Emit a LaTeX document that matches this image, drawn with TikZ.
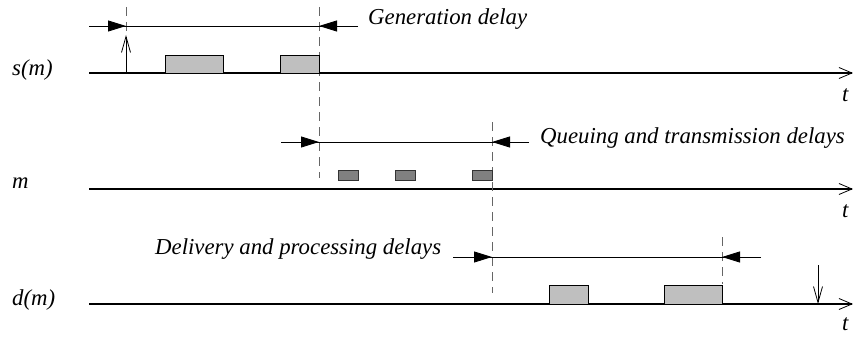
\documentclass[tikz,border=0pt]{standalone}
\usepackage{fontspec}
\setmainfont{Liberation Serif}
\usetikzlibrary{arrows.meta}
\begin{document}
\begin{tikzpicture}[x=1pt,y=-1pt,
  axis/.style={line width=1.1pt,-{Straight Barb[length=13pt,width=11pt,line width=0.8pt]}},
  dimline/.style={line width=0.9pt},
  dimtip/.style={line width=0.9pt,-{Triangle[length=18pt,width=11pt]}},
  marker/.style={line width=0.9pt,-{Straight Barb[length=16pt,width=9pt,line width=0.8pt]}},
  guide/.style={draw=black!60,line width=1pt,dash pattern=on 9pt off 6pt},
  bigbox/.style={draw=black,line width=0.9pt,fill=black!25},
  smallbox/.style={draw=black!80,line width=0.9pt,fill=black!50},
  lbl/.style={font=\fontsize{22.8}{27}\selectfont\itshape,inner sep=0pt,anchor=base west},
]
\useasboundingbox (0,0) rectangle (853,337);
% ---------- labels ----------
\node[lbl] (ls) at (12,75) {s(m)};
\node[lbl] (lm) at (12,188) {m};
\node[lbl] (ld) at (12,305) {d(m)};
\node[lbl] (t1) at (842,101) {t};
\node[lbl] (t2) at (842,217) {t};
\node[lbl] (t3) at (842,330) {t};
\node[lbl] (gen) at (368,25) {Generation delay};
\node[lbl] (que) at (540,143) {Queuing and transmission delays};
\node[lbl] (del) at (155,254) {Delivery and processing delays};
% ---------- axes ----------
\coordinate (a1s) at (89,73);  \coordinate (a1e) at (853,73);
\coordinate (a2s) at (89,189); \coordinate (a2e) at (853,189);
\coordinate (a3s) at (89,304); \coordinate (a3e) at (853,304);
\draw[axis] (a1s) -- (a1e);
\draw[axis] (a2s) -- (a2e);
\draw[axis] (a3s) -- (a3e);
% ---------- guides ----------
\coordinate (g1t) at (126,7);  \coordinate (g1b) at (126,36);
\coordinate (g2t) at (319,7);  \coordinate (g2b) at (319,178);
\coordinate (g3t) at (492,122); \coordinate (g3b) at (492,293);
\coordinate (g4t) at (722,237); \coordinate (g4b) at (722,284);
\draw[guide] (g1t) -- (g1b);
\draw[guide] (g2t) -- (g2b);
\draw[guide] (g3t) -- (g3b);
\draw[guide] (g4t) -- (g4b);
% ---------- boxes ----------
\draw[bigbox] (165,55) rectangle (223,73);
\draw[bigbox] (280,55) rectangle (319,73);
\draw[smallbox] (338,170) rectangle (358,180);
\draw[smallbox] (395,170) rectangle (415,180);
\draw[smallbox] (472,170) rectangle (492,180);
\draw[bigbox] (549,285) rectangle (588,304);
\draw[bigbox] (664,285) rectangle (722,304);
% ---------- markers ----------
\coordinate (up1) at (126,73); \coordinate (up2) at (126,35);
\draw[marker] (up1) -- (up2);
\coordinate (dn1) at (818,265); \coordinate (dn2) at (818,304);
\draw[marker] (dn1) -- (dn2);
% ---------- dimension lines ----------
\coordinate (d1a) at (89,26);  \coordinate (d1l) at (126,26);
\coordinate (d1r) at (319,26); \coordinate (d1b) at (358,26);
\draw[dimline] (d1a) -- (d1b);
\draw[dimtip] (d1a) -- (d1l);
\draw[dimtip] (d1b) -- (d1r);
\coordinate (d2a) at (281,142); \coordinate (d2l) at (319,142);
\coordinate (d2r) at (492,142); \coordinate (d2b) at (529,142);
\draw[dimline] (d2a) -- (d2b);
\draw[dimtip] (d2a) -- (d2l);
\draw[dimtip] (d2b) -- (d2r);
\coordinate (d3a) at (453,257); \coordinate (d3l) at (492,257);
\coordinate (d3r) at (722,257); \coordinate (d3b) at (761,257);
\draw[dimline] (d3a) -- (d3b);
\draw[dimtip] (d3a) -- (d3l);
\draw[dimtip] (d3b) -- (d3r);
\end{tikzpicture}
\end{document}
